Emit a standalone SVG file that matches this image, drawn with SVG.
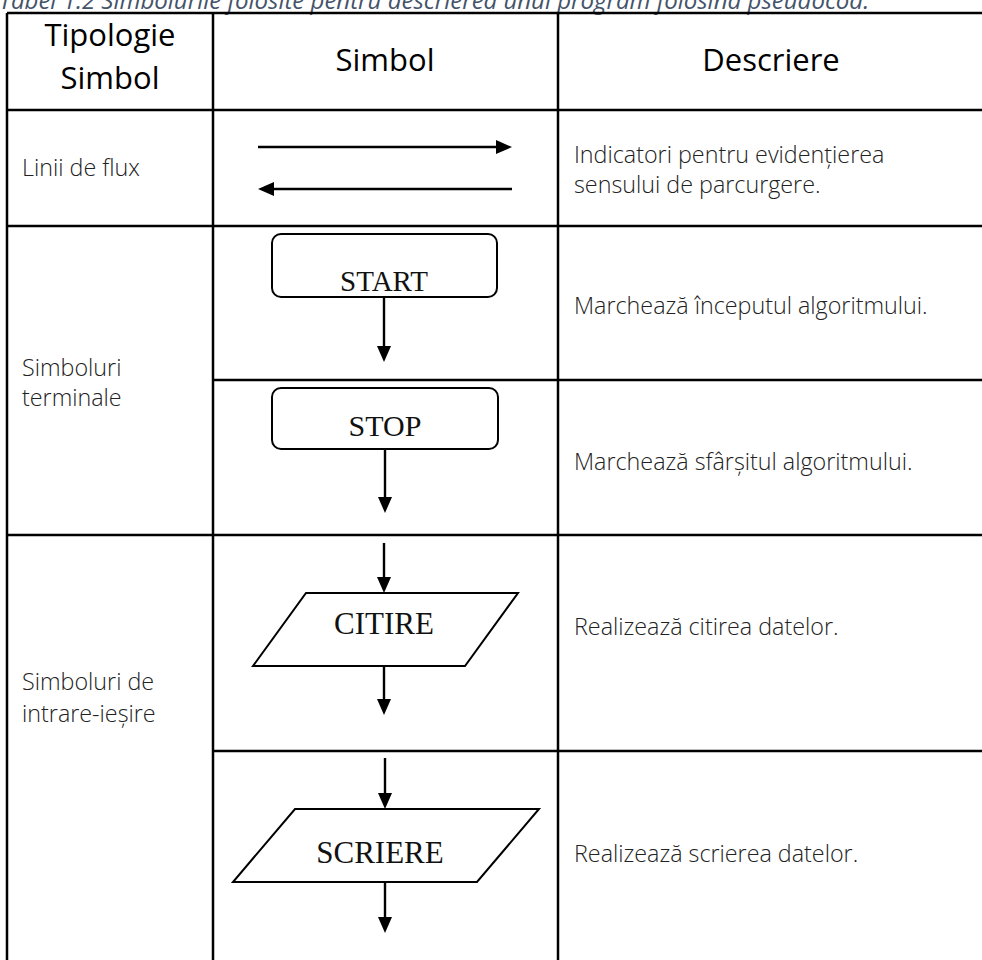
<svg xmlns="http://www.w3.org/2000/svg" width="982" height="960" viewBox="0 0 982 960">
  <style>
    .grid { stroke: #000; stroke-width: 2.5; fill: none; }
    .caption { font-family: "Open Sans", "Liberation Sans", sans-serif; font-style: italic; font-size: 24px; fill: #44546a; }
    .head { font-family: "Open Sans", "Liberation Sans", sans-serif; font-size: 31px; fill: #000; text-anchor: middle; }
    .body { font-family: "Open Sans", "Liberation Sans", sans-serif; font-weight: 300; font-size: 23.3px; fill: #222; }
    .shape { fill: #fff; stroke: #000; stroke-width: 2; }
    .label { font-family: "Liberation Serif", "Times New Roman", serif; font-size: 30px; fill: #111; text-anchor: middle; }
    .flow { stroke: #000; stroke-width: 2.4; fill: none; marker-end: url(#head); }
  </style>
  <defs>
    <marker id="head" markerUnits="userSpaceOnUse" markerWidth="18" markerHeight="16" refX="0" refY="7" orient="auto" overflow="visible">
      <path d="M0,0 L16,7 L0,14 z" fill="#000"/>
    </marker>
  </defs>

  <rect width="982" height="960" fill="#fff"/>

  <text class="caption" x="-1" y="9">Tabel 1.2 Simbolurile folosite pentru descrierea unui program folosind pseudocod.</text>

  <!-- table grid -->
  <g id="table" class="grid">
    <path d="M7,13 H984 M7,110 H984 M7,226 H984 M213,380 H984 M7,535 H984 M213,751 H984 M7,962 H984"/>
    <path d="M7,13 V962 M213,13 V962 M558,13 V962 M984,13 V962"/>
  </g>

  <!-- header row -->
  <g id="header">
    <text class="head" x="110" y="46">Tipologie</text>
    <text class="head" x="110" y="89">Simbol</text>
    <text class="head" x="385" y="71">Simbol</text>
    <text class="head" x="771" y="71">Descriere</text>
  </g>

  <!-- category column -->
  <g id="categories" class="body">
    <text x="22" y="176">Linii de flux</text>
    <text x="22" y="376">Simboluri</text>
    <text x="22" y="406">terminale</text>
    <text x="22" y="690">Simboluri de</text>
    <text x="22" y="722">intrare-ieșire</text>
  </g>

  <!-- description column -->
  <g id="descriptions" class="body">
    <text x="574" y="163">Indicatori pentru evidențierea</text>
    <text x="574" y="193">sensului de parcurgere.</text>
    <text x="574" y="314">Marchează începutul algoritmului.</text>
    <text x="574" y="470">Marchează sfârșitul algoritmului.</text>
    <text x="574" y="635">Realizează citirea datelor.</text>
    <text x="574" y="862">Realizează scrierea datelor.</text>
  </g>

  <!-- flowchart symbols -->
  <g id="start">
    <rect class="shape" x="272" y="234" width="225" height="63" rx="9"/>
    <text class="label" x="384" y="291" style="font-size:29px">START</text>
  </g>
  <g id="stop">
    <rect class="shape" x="272" y="388" width="226" height="61" rx="9"/>
    <text class="label" x="385" y="436">STOP</text>
  </g>
  <g id="citire">
    <polygon class="shape" points="306,593 518,593 465,666 253,666"/>
    <text class="label" x="384" y="634" style="font-size:31px">CITIRE</text>
  </g>
  <g id="scriere">
    <polygon class="shape" points="295,809 539,809 477,882 233,882"/>
    <text class="label" x="380" y="863" style="font-size:31px">SCRIERE</text>
  </g>

  <!-- connectors -->
  <g id="connectors" class="flow">
    <line x1="258" y1="147" x2="496" y2="147"/>
    <line x1="512" y1="189" x2="274" y2="189"/>
    <line x1="384" y1="297" x2="384" y2="346"/>
    <line x1="385" y1="449" x2="385" y2="497"/>
    <line x1="384" y1="543" x2="384" y2="577"/>
    <line x1="384" y1="666" x2="384" y2="699"/>
    <line x1="385" y1="758" x2="385" y2="793"/>
    <line x1="385" y1="882" x2="385" y2="917"/>
  </g>
</svg>
